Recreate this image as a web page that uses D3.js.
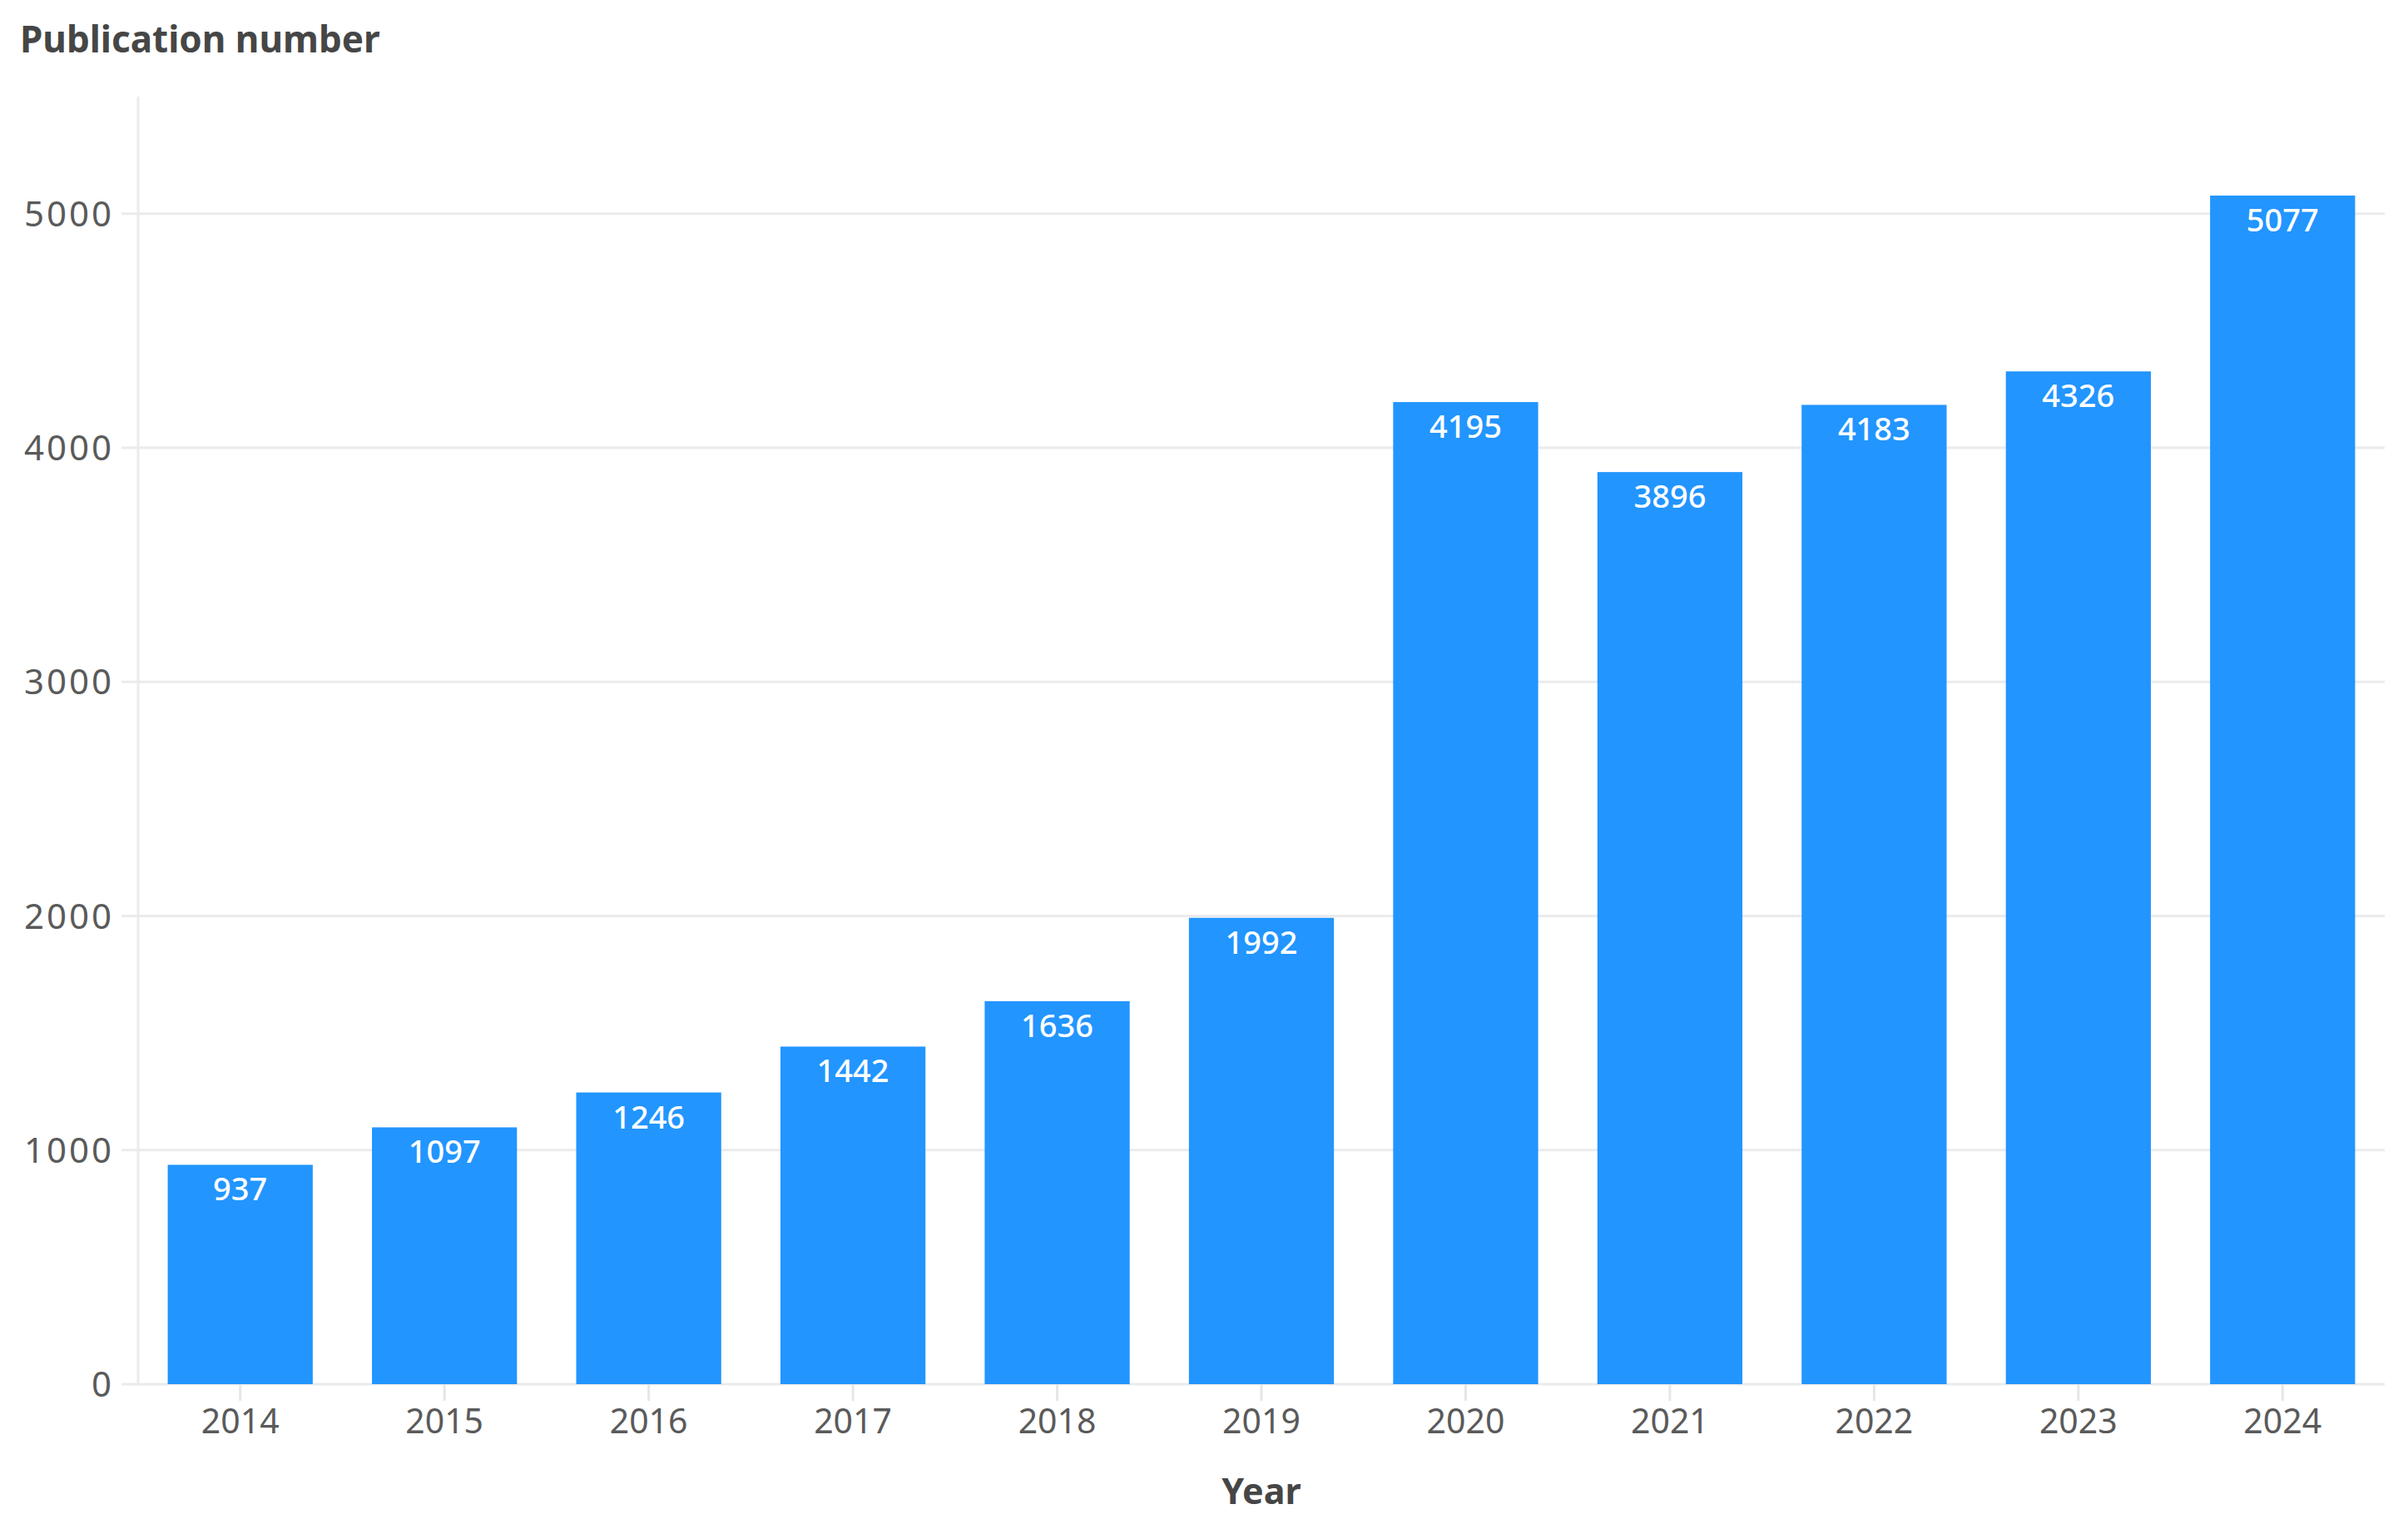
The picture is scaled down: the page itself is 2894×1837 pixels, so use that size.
<!DOCTYPE html>
<html>
<head>
<meta charset="utf-8">
<script src="https://cdn.jsdelivr.net/npm/d3@7"></script>
<style>
  body { margin: 0; background: #fff; }
  text { font-family: "Noto Sans", "Open Sans", sans-serif; }
</style>
</head>
<body>
<script>
var years = ["2014", "2015", "2016", "2017", "2018", "2019", "2020", "2021", "2022", "2023", "2024"];
var counts = [937, 1097, 1246, 1442, 1636, 1992, 4195, 3896, 4183, 4326, 5077];
var yTicks = [0, 1000, 2000, 3000, 4000, 5000];

function BarDraw()
{
    var width = 2894;
    var height = 1837;
    var left = 166, right = 2866, top = 116, bottom = 1663;

    var svg = d3.select("body").append("svg")
            .attr("width", width)
            .attr("height", height);

    var x = d3.scaleBand()
            .domain(years)
            .range([left, right])
            .paddingInner(0.29)
            .paddingOuter(0.145);

    var y = d3.scaleLinear()
            .domain([0, 5500])
            .range([bottom, top]);

    // grid lines
    svg.append("g").selectAll("line")
       .data(yTicks)
       .enter()
       .append("line")
       .attr("x1", left - 20)
       .attr("x2", right)
       .attr("y1", function (d) { return y(d); })
       .attr("y2", function (d) { return y(d); })
       .attr("stroke", "#ebebeb")
       .attr("stroke-width", 3);

    // y axis line
    svg.append("line")
       .attr("x1", left).attr("x2", left)
       .attr("y1", top).attr("y2", bottom)
       .attr("stroke", "#ebebeb")
       .attr("stroke-width", 3);

    // y tick labels
    svg.append("g").selectAll("text")
       .data(yTicks)
       .enter()
       .append("text")
       .attr("x", left - 29)
       .attr("y", function (d) { return y(d); })
       .attr("dy", "0.36em")
       .attr("text-anchor", "end")
       .attr("font-size", 42)
       .attr("letter-spacing", 3)
       .attr("fill", "#5a5a5a")
       .text(function (d) { return d; });

    // bars
    svg.append("g").selectAll("rect")
       .data(counts)
       .enter()
       .append("rect")
       .attr("x", function (d, i) { return x(years[i]); })
       .attr("y", function (d) { return y(d); })
       .attr("width", x.bandwidth())
       .attr("height", function (d) { return y(0) - y(d); })
       .attr("fill", "#2295ff");

    // value labels
    svg.append("g").selectAll("text")
       .data(counts)
       .enter()
       .append("text")
       .attr("x", function (d, i) { return x(years[i]) + x.bandwidth() / 2; })
       .attr("y", function (d) { return y(d) + 43; })
       .attr("text-anchor", "middle")
       .attr("font-size", 38)
       .attr("font-weight", 500)
       .attr("fill", "#ffffff")
       .text(function (d) { return d; });

    // x ticks
    svg.append("g").selectAll("line")
       .data(years)
       .enter()
       .append("line")
       .attr("x1", function (d) { return x(d) + x.bandwidth() / 2; })
       .attr("x2", function (d) { return x(d) + x.bandwidth() / 2; })
       .attr("y1", bottom)
       .attr("y2", bottom + 20)
       .attr("stroke", "#e6e6e6")
       .attr("stroke-width", 3);

    svg.append("g").selectAll("text")
       .data(years)
       .enter()
       .append("text")
       .attr("x", function (d) { return x(d) + x.bandwidth() / 2; })
       .attr("y", 1722)
       .attr("text-anchor", "middle")
       .attr("font-size", 41)
       .attr("fill", "#5a5a5a")
       .text(function (d) { return d; });

    // axis titles
    svg.append("text")
       .attr("x", (left + right) / 2)
       .attr("y", 1807)
       .attr("text-anchor", "middle")
       .attr("font-size", 43)
       .attr("font-weight", "bold")
       .attr("fill", "#464646")
       .text("Year");

    svg.append("text")
       .attr("x", 24)
       .attr("y", 63)
       .attr("font-size", 44)
       .attr("font-weight", "bold")
       .attr("fill", "#464646")
       .text("Publication number");
}
window.onload = BarDraw;
</script>
</body>
</html>
